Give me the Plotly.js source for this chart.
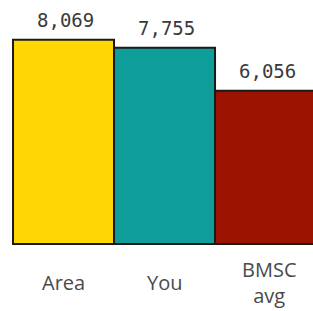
<!DOCTYPE html>
<html>
<head>
<meta charset="utf-8">
<script src="https://cdn.plot.ly/plotly-3.0.1.min.js"></script>
<style>html,body{margin:0;padding:0;background:#fff;}#chart{width:313px;height:311px;}</style>
</head>
<body>
<div id="chart"></div>
<script>
const categories = ["Area", "You", "BMSC<br>avg"];
const values = [8069, 7755, 6056];
const valueLabels = ["8,069", "7,755", "6,056"];
const barColors = ["#FFD803", "#0F9D9A", "#9C1300"];

const trace = {
  type: "bar",
  x: categories,
  y: values,
  marker: { color: barColors, line: { color: "#1a1a1a", width: 2 } },
  width: 1,
  hoverinfo: "none"
};

const annotations = [];
categories.forEach((c, i) => {
  annotations.push({
    x: c, y: values[i], xref: "x", yref: "y",
    text: valueLabels[i], showarrow: false,
    yanchor: "bottom", yshift: 7, xshift: 2,
    font: { family: "DejaVu Sans Mono", size: 19, color: "#3a3a3a" }
  });
  annotations.push({
    x: c, y: -0.15, xref: "x", yref: "paper",
    text: c, showarrow: false, yanchor: "middle", xshift: i === 2 ? 3 : 0,
    font: { family: "Open Sans", size: 20, color: "#4a4a4a" }
  });
});

const layout = {
  width: 313, height: 311,
  margin: { l: 11, r: 0, t: 0, b: 65, pad: 0 },
  paper_bgcolor: "#fff", plot_bgcolor: "#fff",
  bargap: 0,
  showlegend: false,
  xaxis: { range: [-0.52, 2.47], showticklabels: false, showgrid: false, zeroline: false, showline: false, ticks: "" },
  yaxis: { range: [-79, 9644], visible: false, showgrid: false, zeroline: false },
  annotations: annotations
};

Plotly.newPlot("chart", [trace], layout, { staticPlot: true, displayModeBar: false });
</script>
</body>
</html>
